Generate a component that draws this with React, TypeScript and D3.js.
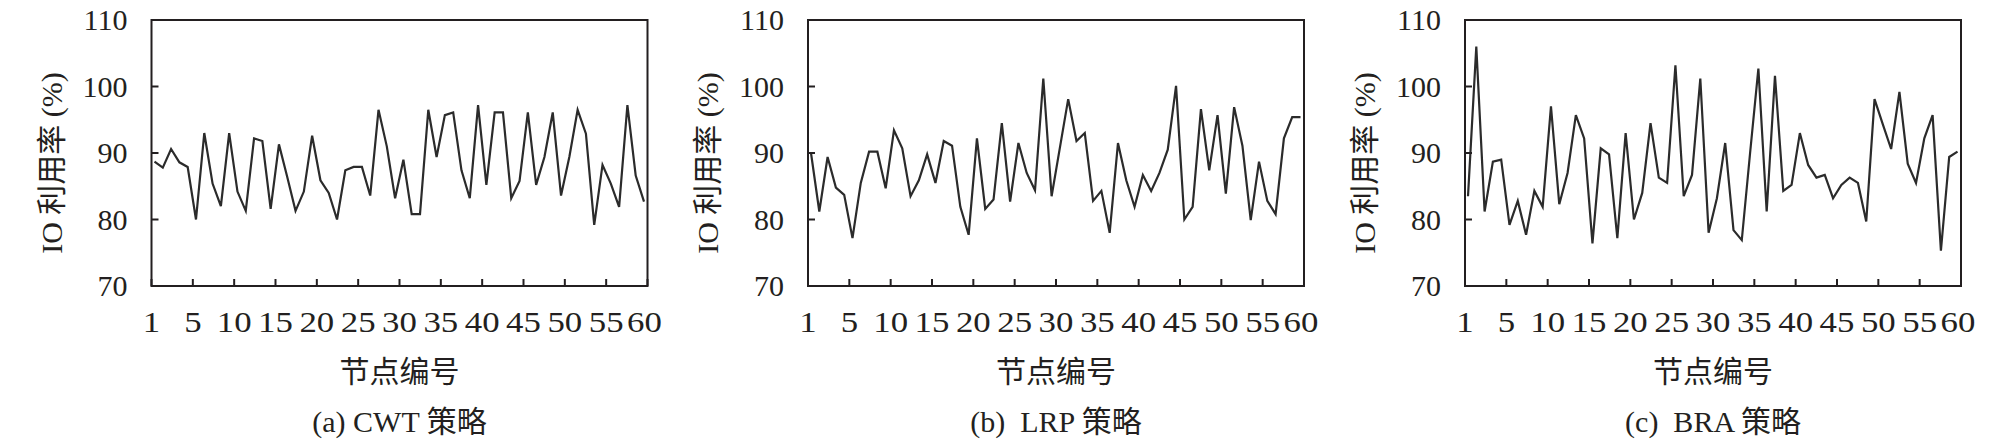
import * as d3 from "d3";

// node numbers 1..60
const nodes = d3.range(1, 61);

const cwtValues = [
  88.7, 87.8, 90.6, 88.6, 87.9, 80.0, 93.0, 85.4, 82.0, 93.0,
  84.2, 81.3, 92.2, 91.8, 81.6, 91.3, 86.4, 81.3, 84.2, 92.6,
  85.9, 84.0, 80.0, 87.4, 87.9, 87.9, 83.6, 96.5, 91.0, 83.2,
  89.0, 80.8, 80.8, 96.5, 89.4, 95.7, 96.1, 87.4, 83.2, 97.2,
  85.2, 96.1, 96.1, 83.2, 85.8, 96.1, 85.2, 89.4, 96.1, 83.6,
  89.4, 96.5, 92.9, 79.2, 88.2, 85.4, 81.9, 97.2, 86.6, 82.7,
];

const lrpValues = [
  90.0, 81.2, 89.4, 84.8, 83.7, 77.2, 85.5, 90.2, 90.2, 84.7,
  93.4, 90.7, 83.5, 85.9, 89.8, 85.5, 91.8, 91.1, 81.9, 77.7,
  92.2, 81.6, 83.0, 94.5, 82.7, 91.5, 87.0, 84.4, 101.2, 83.5,
  90.8, 98.1, 91.8, 93.0, 82.8, 84.3, 78.0, 91.5, 85.9, 81.9,
  86.7, 84.3, 87.0, 90.5, 100.1, 80.0, 81.9, 96.6, 87.4, 95.7,
  83.9, 96.9, 91.1, 79.9, 88.7, 82.8, 80.8, 92.2, 95.4, 95.4,
];

const braValues = [
  83.5, 106.0, 81.2, 88.7, 89.0, 79.2, 82.8, 77.7, 84.3, 81.9,
  97.0, 82.3, 87.0, 95.7, 92.2, 76.4, 90.7, 89.8, 77.2, 93.0,
  80.0, 84.0, 94.5, 86.3, 85.5, 103.2, 83.5, 86.7, 101.2, 78.0,
  83.2, 91.5, 78.4, 76.9, 90.0, 102.7, 81.2, 101.6, 84.3, 85.2,
  93.0, 88.2, 86.3, 86.7, 83.2, 85.2, 86.3, 85.5, 79.7, 98.1,
  94.3, 90.6, 99.2, 88.4, 85.5, 92.2, 95.7, 75.3, 89.4, 90.2,
];

const panels = [
  { caption: "(a) CWT 策略", values: cwtValues },
  { caption: "(b)  LRP 策略", values: lrpValues },
  { caption: "(c)  BRA 策略", values: braValues },
];

const yTicks = [70, 80, 90, 100, 110];
const xTicks = [0, 5, 10, 15, 20, 25, 30, 35, 40, 45, 50, 55, 60];
const xTickLabel = (t: number) => (t === 0 ? "1" : String(t));

const yTitle = "IO 利用率 (%)";
const xTitle = "节点编号";

const W = 2008;
const H = 444;
const plotLefts = [151.5, 808, 1465];
const plotW = 496;
const plotTop = 20;
const plotBottom = 286;

const latin = "'Liberation Serif', 'Times New Roman', 'Noto Sans CJK SC', serif";
const ink = "#231f20";

function Panel({ left, caption, values }: { left: number; caption: string; values: number[] }) {
  const right = left + plotW;
  const y = d3.scaleLinear([70, 110], [plotBottom, plotTop]);
  const xAxis = d3.scaleLinear([0, 60], [left, right]);
  const xPt = d3.scaleLinear([1, 60], [left + 3, right - 3.5]);
  const line = d3
    .line<number>()
    .x((d, i) => xPt(nodes[i]))
    .y((d) => y(d));
  const cx = (left + right) / 2;

  return (
    <g>
      <path d={line(values) ?? ""} fill="none" stroke="#2b2b2b" strokeWidth={2.2} strokeLinejoin="miter" />
      <rect x={left} y={plotTop} width={plotW} height={plotBottom - plotTop} fill="none" stroke={ink} strokeWidth={2} />
      {yTicks.map((t) => (
        <g key={"y" + t}>
          <line x1={left} x2={left + 7} y1={y(t)} y2={y(t)} stroke={ink} strokeWidth={2} />
          <text x={left - 24} y={y(t) + 10} textAnchor="end" fontSize={30} fontFamily={latin} fill={ink}>
            {t}
          </text>
        </g>
      ))}
      {xTicks.map((t) => (
        <g key={"x" + t}>
          <line x1={xAxis(t)} x2={xAxis(t)} y1={plotBottom} y2={plotBottom - 7} stroke={ink} strokeWidth={2} />
          {/* the source's x labels are set wider than tall */}
          <text
            transform={`translate(${t === 60 ? xAxis(t) - 3 : xAxis(t)},331.5) scale(1.2,1)`}
            textAnchor="middle"
            fontSize={29}
            fontFamily={latin}
            fill={ink}
          >
            {xTickLabel(t)}
          </text>
        </g>
      ))}
      <text
        transform={`translate(${left - 90},163) rotate(-90)`}
        textAnchor="middle"
        fontSize={30}
        fontFamily={latin}
        fill={ink}
      >
        {yTitle}
      </text>
      <text x={cx} y={382} textAnchor="middle" fontSize={30} fontFamily={latin} fill={ink}>
        {xTitle}
      </text>
      <text x={cx} y={432} textAnchor="middle" fontSize={30} fontFamily={latin} fill={ink} style={{ whiteSpace: "pre" }}>
        {caption}
      </text>
    </g>
  );
}

export default function App() {
  return (
    <svg width={W} height={H} style={{ position: "absolute", left: 0, top: 0, background: "#fff" }}>
      <rect width={W} height={H} fill="#fff" />
      {panels.map((p, i) => (
        <Panel key={p.caption} left={plotLefts[i]} caption={p.caption} values={p.values} />
      ))}
    </svg>
  );
}
